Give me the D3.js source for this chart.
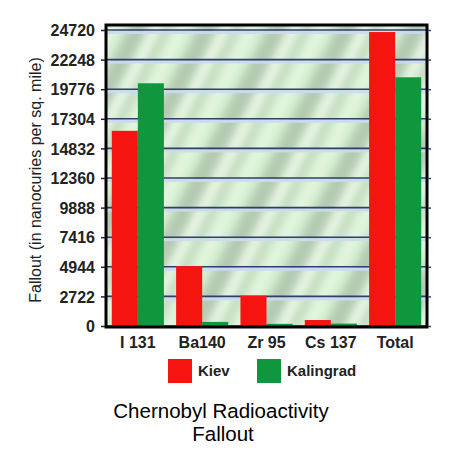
<!DOCTYPE html>
<html><head><meta charset="utf-8">
<script src="https://cdn.jsdelivr.net/npm/d3@7"></script>
<style>html,body{margin:0;padding:0;background:#fff;}svg{display:block;}</style>
</head><body>
<script>
const categories = ["I 131", "Ba140", "Zr 95", "Cs 137", "Total"];
const seriesNames = ["Kiev", "Kalingrad"];
const kiev = [16300, 5000, 2530, 500, 24550];
const kalingrad = [20270, 340, 180, 200, 20770];
const tickValues = [0, 2472, 4944, 7416, 9888, 12360, 14832, 17304, 19776, 22248, 24720];
const tickLabels = ["0", "2722", "4944", "7416", "9888", "12360", "14832", "17304", "19776", "22248", "24720"];
const colors = ["#f51410", "#10963c"];

(function () {
const W = 474, H = 457;
const svg = d3.select("body").append("svg").attr("width", W).attr("height", H);
const pL = 106, pR = 427, pT = 25, pB = 327;

const x = d3.scaleBand().domain(categories).range([pL, pR]).paddingInner(0.19).paddingOuter(0.09);
const xs = d3.scaleBand().domain(seriesNames).range([0, x.bandwidth()]);
const y = d3.scaleLinear().domain([0, 24720]).range([326, 30]);

const defs = svg.append("defs");
defs.append("clipPath").attr("id", "plotclip").append("rect")
  .attr("x", pL).attr("y", pT).attr("width", pR - pL).attr("height", pB - pT);
const blur = defs.append("filter").attr("id", "blur").attr("x", "-20%").attr("y", "-20%").attr("width", "140%").attr("height", "140%");
blur.append("feGaussianBlur").attr("stdDeviation", 4.5);
const pat = defs.append("pattern").attr("id", "streaks").attr("patternUnits", "userSpaceOnUse")
  .attr("width", 62).attr("height", 500).attr("patternTransform", "rotate(27)");
pat.append("rect").attr("width", 62).attr("height", 500).attr("fill", "#d4eecf");
pat.append("rect").attr("x", 3).attr("width", 18).attr("height", 500).attr("fill", "#9fb09c").attr("opacity", 0.6);
pat.append("rect").attr("x", 34).attr("width", 7).attr("height", 500).attr("fill", "#a8b8a6").attr("opacity", 0.45);
pat.append("rect").attr("x", 23).attr("width", 8).attr("height", 500).attr("fill", "#f0faec").attr("opacity", 0.85);
pat.append("rect").attr("x", 46).attr("width", 10).attr("height", 500).attr("fill", "#eaf8e6").attr("opacity", 0.8);

const plot = svg.append("g").attr("clip-path", "url(#plotclip)");
plot.append("rect").attr("x", pL).attr("y", pT).attr("width", pR - pL).attr("height", pB - pT).attr("fill", "#d4eecf");
plot.append("rect").attr("x", pL - 30).attr("y", pT - 30).attr("width", pR - pL + 60).attr("height", pB - pT + 60)
  .attr("fill", "url(#streaks)").attr("filter", "url(#blur)");

const grid = plot.append("g");
tickValues.forEach(v => {
  grid.append("rect").attr("x", pL).attr("y", y(v) + 1).attr("width", pR - pL).attr("height", 3).attr("fill", "#cbdaf2").attr("opacity", 0.9);
  grid.append("line").attr("x1", pL).attr("x2", pR).attr("y1", y(v)).attr("y2", y(v))
    .attr("stroke", "#2f3f66").attr("stroke-width", 1.6);
});

const data = categories.map((c, i) => ({ c, vals: [kiev[i], kalingrad[i]] }));
const groups = svg.append("g").selectAll("g").data(data).join("g").attr("transform", d => `translate(${x(d.c)},0)`);
groups.selectAll("rect").data(d => d.vals.map((v, j) => ({ v, s: seriesNames[j], j })))
  .join("rect")
  .attr("x", d => xs(d.s)).attr("width", xs.bandwidth())
  .attr("y", d => y(d.v)).attr("height", d => y(0) - y(d.v))
  .attr("fill", d => colors[d.j]);

svg.append("rect").attr("x", pL).attr("y", pT).attr("width", pR - pL).attr("height", pB - pT)
  .attr("fill", "none").attr("stroke", "#000").attr("stroke-width", 3);

const yAxis = d3.axisLeft(y).tickValues(tickValues).tickSize(4).tickPadding(6).tickFormat((d, i) => tickLabels[i]);
const ya = svg.append("g").attr("transform", `translate(${pL - 1},0)`).call(yAxis);
ya.select(".domain").remove();
ya.selectAll("line").attr("stroke", "#222").attr("stroke-width", 1.5);
ya.selectAll("text").attr("font-family", "Liberation Sans, Arial, sans-serif").attr("font-weight", "bold")
  .attr("font-size", "16px").attr("fill", "#222").attr("dy", "0.36em");

const yAxisR = d3.axisRight(y).tickValues(tickValues).tickSize(3).tickFormat("");
const yr = svg.append("g").attr("transform", `translate(${pR + 1},0)`).call(yAxisR);
yr.select(".domain").remove();
yr.selectAll("line").attr("stroke", "#34456a").attr("stroke-width", 1.5);

const xAxis = d3.axisBottom(x).tickSize(0).tickPadding(10);
const xa = svg.append("g").attr("transform", `translate(0,${pB})`).call(xAxis);
xa.select(".domain").remove();
xa.selectAll("text").attr("font-family", "Liberation Sans, Arial, sans-serif").attr("font-weight", "bold")
  .attr("font-size", "16px").attr("fill", "#222");

svg.append("text").attr("transform", "translate(41,180) rotate(-90)").attr("text-anchor", "middle")
  .attr("font-family", "Liberation Sans, Arial, sans-serif").attr("font-size", "16px").attr("fill", "#222")
  .text("Fallout (in nanocuries per sq. mile)");

const legendX = [168, 257];
const lg = svg.append("g").selectAll("g").data(seriesNames).join("g").attr("transform", (d, i) => `translate(${legendX[i]},359)`);
lg.append("rect").attr("width", 24).attr("height", 24).attr("fill", (d, i) => colors[i]);
lg.append("text").attr("x", 30).attr("y", 12).attr("dy", "0.36em")
  .attr("font-family", "Liberation Sans, Arial, sans-serif").attr("font-weight", "bold").attr("font-size", "15px").attr("fill", "#222")
  .text(d => d);

const title = svg.append("text").attr("text-anchor", "middle").attr("font-family", "Liberation Sans, Arial, sans-serif")
  .attr("font-size", "20.5px").attr("fill", "#000");
title.append("tspan").attr("x", 221).attr("y", 418).text("Chernobyl Radioactivity");
title.append("tspan").attr("x", 223).attr("y", 441).text("Fallout");
})();
</script>
</body></html>
